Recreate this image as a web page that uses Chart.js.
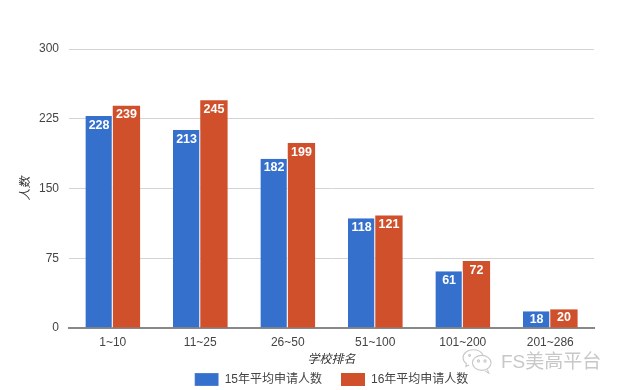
<!DOCTYPE html>
<html><head><meta charset="utf-8">
<style>
html,body{margin:0;padding:0;background:#fff;overflow:hidden}
#wrap{position:relative;width:620px;height:390px}
#mark{position:absolute;left:501px;top:346px;font:19px "Liberation Sans","Noto Sans CJK SC",sans-serif;color:#c8c8c8;white-space:nowrap}
#icon{position:absolute;left:461px;top:347px}
</style>
<script src="https://cdn.jsdelivr.net/npm/chart.js@4"></script>
</head><body>
<div id="wrap">
<canvas id="c" width="620" height="390"></canvas>
<svg id="icon" width="34" height="28" viewBox="0 0 36 30" fill="none" stroke="#c8c8c8" stroke-width="1.2">
<path d="M13 3c-6 0-11 3.600-11 8.500 0 2.600 1.500 4.800 3.600 6.400L5 21l3.600-1.700"/>
<path d="M13 3c5 0 9 2.600 10.400 6"/>
<ellipse cx="22" cy="17" rx="10" ry="8"/><path d="M28 24l1.500 4-4-2.400"/>
<circle cx="18.500" cy="15" r="1.200"/><circle cx="25.500" cy="15" r="1.200"/>
<circle cx="9" cy="9" r="1"/>
</svg>
<div id="mark">FS美高平台</div>
</div>
<script>
const categories = ["1~10","11~25","26~50","51~100","101~200","201~286"];
const series15 = [228,213,182,118,61,18];
const series16 = [239,245,199,121,72,20];
const name15 = "15年平均申请人数";
const name16 = "16年平均申请人数";
const yTicks = [0,75,150,225,300];
const FF = '"Liberation Sans","Noto Sans CJK SC",sans-serif';

const barLabels = {
  id:'barLabels',
  afterDatasetsDraw(chart){
    const ctx = chart.ctx;
    ctx.save();
    ctx.fillStyle='#fff';
    ctx.font='bold 12.5px '+FF;
    ctx.textAlign='center';
    ctx.textBaseline='top';
    chart.data.datasets.forEach((ds,i)=>{
      chart.getDatasetMeta(i).data.forEach((el,j)=>{
        ctx.fillText(ds.data[j], el.x, el.y+ (ds.data[j]<30 ? 2 : 3));
      });
    });
    ctx.restore();
  }
};
const legendFit = {
  id:'legendFit',
  beforeLayout(chart){
    const lg = chart.legend;
    if(lg && !lg._patched){
      const f = lg.fit;
      lg.fit = function(){ f.call(this); this.height = 36; };
      lg._patched = true;
    }
  }
};

new Chart(document.getElementById('c'),{
  type:'bar',
  data:{labels:categories,datasets:[
    {label:name15,data:series15,backgroundColor:'#3570cc',borderWidth:{right:1,left:0,top:0,bottom:0},borderColor:'#fff'},
    {label:name16,data:series16,backgroundColor:'#cf502b',borderWidth:0}
  ]},
  options:{
    responsive:false,animation:false,
    layout:{padding:{left:0,right:26,top:49,bottom:0}},
    datasets:{bar:{categoryPercentage:0.625,barPercentage:1,grouped:true}},
    plugins:{
      tooltip:{enabled:false},
      legend:{position:'bottom',fullSize:false,
        labels:{boxWidth:24,boxHeight:13,padding:19,color:'#444',font:{family:FF,size:12}}
      }
    },
    scales:{
      x:{
        grid:{display:false,drawTicks:false},
        border:{color:'#888',width:2},
        ticks:{color:'#444',font:{family:FF,size:12},padding:7,maxRotation:0,autoSkip:false},
        title:{display:true,text:'学校排名',color:'#333',padding:{top:0,bottom:-12.5},font:{family:FF,size:12,style:'italic'}},
        afterFit(s){s.height=26;}
      },
      y:{
        min:0,max:300,
        afterBuildTicks(s){s.ticks=yTicks.map(v=>({value:v}));},
        grid:{color:'#d4d4d4',lineWidth:1,drawTicks:false},
        border:{display:false},
        ticks:{color:'#444',font:{family:FF,size:12},padding:10},
        title:{display:true,text:'人数',color:'#333',padding:{top:18,bottom:0},font:{family:FF,size:12,style:'italic'}},
        afterFit(s){s.width=69;}
      }
    }
  },
  plugins:[barLabels,legendFit]
});
</script>
</body></html>
